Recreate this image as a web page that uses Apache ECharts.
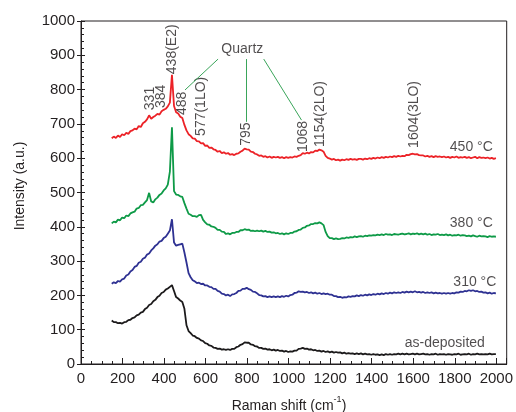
<!DOCTYPE html>
<html>
<head>
<meta charset="utf-8">
<script src="https://cdn.jsdelivr.net/npm/echarts@6/dist/echarts.min.js"></script>
<style>
  html, body { margin: 0; padding: 0; background: #fff; }
  #chart { width: 516px; height: 412px; }
</style>
</head>
<body>
<div id="chart"></div>
<script>
// Raman spectra of the films: as-deposited and annealed at 310, 380 and 450 °C.
// Each spectrum is sampled every 10 cm-1 starting at 148 cm-1.
const shiftStart = 148;
const shiftStep = 10;

const asDeposited = [
  127,122,122,119,120,118,122,123,128,129,
  134,136,142,144,150,152,160,164,172,175,
  183,187,195,199,207,210,217,220,225,230,
  213,195,191,185,181,161,113,96,90,83,
  81,76,74,69,67,61,59,54,53,48,
  47,44,45,42,43,41,43,41,44,44,
  49,51,56,58,63,62,62,57,56,52,
  51,47,47,44,45,42,43,40,42,39,
  41,38,39,36,38,35,37,36,39,39,
  44,45,47,44,45,42,43,40,41,38,
  39,36,38,35,37,34,36,33,35,33,
  34,31,33,30,32,30,31,29,31,29,
  31,28,30,28,29,27,29,27,28,26,
  28,26,29,27,29,27,29,28,30,28,
  30,28,30,28,29,30,28,30,28,29,
  30,28,29,27,29,28,30,27,29,28,
  29,27,29,28,27,29,28,30,27,28,
  29,28,30,27,29,28,30,28,29,28,
  29,28,30,28,29,29
];

const annealed310 = [
  234,238,236,242,240,247,249,258,261,270,
  274,283,286,295,298,307,310,319,322,331,
  337,345,349,357,359,367,371,380,389,422,
  354,345,347,349,351,325,296,265,253,244,
  241,236,237,233,234,229,229,225,224,219,
  219,213,211,205,204,200,202,198,203,204,
  207,213,214,219,219,222,218,216,211,210,
  206,201,200,197,198,195,197,195,197,195,
  197,195,198,196,199,197,201,202,207,208,
  212,210,211,209,210,207,209,206,208,205,
  207,204,206,204,205,202,202,198,198,195,
  196,193,195,194,197,196,198,197,200,198,
  201,199,202,200,203,201,204,202,205,203,
  206,204,207,205,208,206,209,207,209,207,
  210,208,211,209,211,209,212,209,210,208,
  210,207,209,207,209,206,208,206,207,205,
  207,205,207,205,207,206,209,208,211,210,
  213,212,215,213,215,212,213,210,211,208,
  209,206,208,205,207,206
];

const annealed380 = [
  410,415,413,421,419,427,425,433,431,439,
  442,444,453,455,463,464,471,478,499,474,
  471,480,485,493,497,506,512,523,561,690,
  504,494,493,489,487,469,453,438,435,431,
  431,429,434,435,420,413,407,406,401,400,
  397,391,391,386,385,379,381,378,382,382,
  385,385,390,390,393,391,392,388,389,387,
  389,387,389,386,388,385,386,383,384,381,
  382,379,381,378,381,379,382,382,386,387,
  391,392,397,398,403,404,408,408,411,410,
  413,410,405,385,373,367,367,364,366,364,
  365,367,366,369,368,370,369,372,370,372,
  373,371,374,373,375,374,376,375,377,376,
  378,376,379,377,378,376,379,378,377,379,
  380,378,379,381,378,380,379,381,378,380,
  378,380,377,379,376,378,377,379,376,377,
  376,378,375,377,374,376,375,377,374,376,
  375,373,374,372,375,373,371,374,372,373,
  372,370,373,371,372,371
];

const annealed450 = [
  658,663,659,666,662,670,667,674,671,679,
  681,686,684,694,691,702,706,713,725,715,
  720,724,729,727,737,741,744,751,762,843,
  752,734,730,721,717,697,681,670,665,658,
  657,650,649,643,644,636,637,630,631,626,
  624,619,621,615,617,613,615,610,612,609,
  613,614,619,622,628,626,625,619,618,613,
  611,607,608,604,606,602,605,601,604,602,
  604,601,603,600,603,601,603,602,605,604,
  607,609,615,613,616,614,618,617,622,621,
  625,623,619,607,601,599,596,598,594,596,
  593,596,594,597,595,598,596,597,595,598,
  598,596,599,597,600,598,601,599,602,600,
  603,601,604,602,605,603,606,604,607,605,
  607,606,610,609,612,613,611,612,609,608,
  608,605,607,604,606,603,606,604,605,603,
  605,602,604,601,604,602,605,601,603,602,
  604,601,603,600,602,604,600,603,601,602,
  600,602,599,601,598,600
];

// Assigned Raman bands written above the 450 °C spectrum
const peakShift = [331, 384, 438, 488, 577, 795, 1068, 1154, 1604];
const peakText = ['331', '384', '438(E2)', '488', '577(1LO)', '795', '1068', '1154(2LO)', '1604(3LO)'];
const peakLabelBase = [740, 746, 845, 726, 665, 636, 618, 633, 630];

// Curve names written at the right-hand end of each spectrum
const curveNames = ['450 °C', '380 °C', '310 °C', 'as-deposited'];
const curveNameAt = [[1983, 633], [1983, 411], [2000, 239], [1945, 61]];

// "Quartz" callout and its leader lines to the 488, 795 and 1068 bands
const quartzAt = [777, 918];
const quartzLeaders = [
  [[660, 889], [501, 799]],
  [[794, 889], [794, 706]],
  [[880, 889], [1062, 711]]
];

const xTicks = { min: 0, max: 2050, step: 200 };
const yTicks = { min: 0, max: 1000, step: 100 };

const FONT = 'Liberation Sans, Arial, Helvetica, sans-serif';
const INK = '#231f20';
const COLORS = { d: '#1c1a1b', t310: '#2e3192', t380: '#0e9a47', t450: '#ec2227', quartz: '#3aa55a' };

function pairs(values) {
  return values.map((v, i) => [shiftStart + i * shiftStep, v]);
}

function spectrum(name, values, color) {
  return {
    name: name,
    type: 'line',
    data: pairs(values),
    showSymbol: false,
    symbol: 'none',
    smooth: false,
    lineStyle: { color: color, width: 1.8 },
    silent: true
  };
}

const chart = echarts.init(document.getElementById('chart'), null, { renderer: 'canvas' });

const tickLabel = { color: INK, fontFamily: FONT, fontSize: 15, formatter: v => String(v) };

chart.setOption({
  animation: false,
  backgroundColor: '#ffffff',
  grid: { left: 81, right: 7, top: 21, bottom: 48, show: true, borderColor: INK, borderWidth: 1 },
  xAxis: [{
    type: 'value',
    min: xTicks.min, max: xTicks.max, interval: xTicks.step,
    axisLine: { show: true, lineStyle: { color: INK, width: 1 } },
    axisTick: { show: true, inside: true, length: 6, lineStyle: { color: INK } },
    minorTick: { show: true, splitNumber: 4, length: 3, lineStyle: { color: INK } },
    axisLabel: Object.assign({ margin: 7, showMaxLabel: false }, tickLabel),
    splitLine: { show: false }
  }],
  yAxis: [{
    type: 'value',
    min: yTicks.min, max: yTicks.max, interval: yTicks.step,
    axisLine: { show: true, lineStyle: { color: INK, width: 1 } },
    axisTick: { show: true, inside: true, length: 4, lineStyle: { color: INK } },
    minorTick: { show: true, splitNumber: 5, length: 3, lineStyle: { color: INK } },
    axisLabel: Object.assign({ margin: 6 }, tickLabel),
    splitLine: { show: false }
  }, {
    // outward half of the major y ticks
    type: 'value', position: 'left',
    min: yTicks.min, max: yTicks.max, interval: yTicks.step,
    axisLine: { show: false },
    axisTick: { show: true, inside: false, length: 4, lineStyle: { color: INK } },
    axisLabel: { show: false },
    splitLine: { show: false }
  }],
  graphic: [
    {
      type: 'text', x: 20, y: 186, rotation: Math.PI / 2,
      style: { text: 'Intensity (a.u.)', font: '14px ' + FONT, fill: INK, align: 'center', verticalAlign: 'middle' }
    },
    {
      type: 'text', x: 289, y: 404,
      style: {
        text: '{a|Raman shift (cm}{s|-1}{a|)}',
        align: 'center', verticalAlign: 'middle',
        rich: {
          a: { fontFamily: FONT, fontSize: 14, fill: INK, color: INK, lineHeight: 18, verticalAlign: 'bottom' },
          s: { fontFamily: FONT, fontSize: 9, fill: INK, color: INK, lineHeight: 18, verticalAlign: 'top', padding: [0, 0, 6, 0] }
        }
      }
    }
  ],
  series: [
    spectrum('as-deposited', asDeposited, COLORS.d),
    spectrum('310 °C', annealed310, COLORS.t310),
    spectrum('380 °C', annealed380, COLORS.t380),
    spectrum('450 °C', annealed450, COLORS.t450),
    {
      name: 'bands',
      type: 'scatter',
      symbolSize: 0,
      silent: true,
      data: peakShift.map((s, i) => ({ value: [s, peakLabelBase[i]], name: peakText[i] })),
      label: {
        show: true, position: 'inside', rotate: 90, align: 'left', verticalAlign: 'middle',
        formatter: '{b}', color: INK, fontFamily: FONT, fontSize: 14
      }
    },
    {
      name: 'notes',
      type: 'scatter',
      symbolSize: 0,
      silent: true,
      data: curveNames.map((n, i) => ({ value: curveNameAt[i], name: n })),
      label: {
        show: true, position: 'inside', align: 'right', verticalAlign: 'middle',
        formatter: '{b}', color: INK, fontFamily: FONT, fontSize: 14
      }
    },
    {
      name: 'quartz',
      type: 'scatter',
      symbolSize: 0,
      silent: true,
      data: [{ value: quartzAt, name: 'Quartz' }],
      label: {
        show: true, position: 'inside', align: 'center', verticalAlign: 'middle',
        formatter: '{b}', color: INK, fontFamily: FONT, fontSize: 14
      },
      markLine: {
        silent: true,
        symbol: ['none', 'none'],
        label: { show: false },
        lineStyle: { color: COLORS.quartz, width: 1, type: 'solid' },
        emphasis: { disabled: true },
        data: quartzLeaders.map(seg => [{ coord: seg[0] }, { coord: seg[1] }])
      }
    }
  ]
});
</script>
</body>
</html>
